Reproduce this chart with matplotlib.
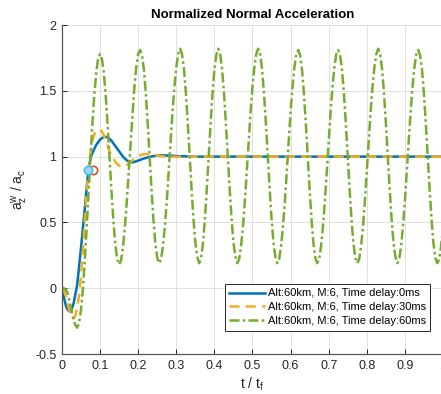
import numpy as np
import matplotlib
matplotlib.use('Agg')
import matplotlib.pyplot as plt

plt.rcParams['font.family'] = ['Liberation Sans', 'DejaVu Sans']
plt.rcParams['mathtext.fontset'] = 'custom'
plt.rcParams['mathtext.rm'] = 'Liberation Sans'

# green: time delay 60ms, sampled every 0.005 t/tf
t_green = np.round(np.arange(0, 1.0001, 0.005), 3)
a_green = [
    0.0, 0.0, -0.01, -0.04, -0.10, -0.17, -0.24, -0.28, -0.30, -0.26, -0.16,
    0.0, 0.22, 0.47, 0.74, 1.01, 1.26, 1.48, 1.64, 1.75, 1.78,
    1.74, 1.63, 1.45, 1.23, 0.98, 0.73, 0.51, 0.33, 0.22, 0.18,
    0.21, 0.31, 0.46, 0.66, 0.88, 1.11, 1.33, 1.53, 1.68, 1.78, 1.81,
    1.77, 1.66, 1.48, 1.25, 1.00, 0.75, 0.52, 0.34, 0.23, 0.19,
    0.22, 0.32, 0.47, 0.66, 0.89, 1.12, 1.34, 1.53, 1.68, 1.78, 1.82,
    1.78, 1.67, 1.49, 1.26, 1.01, 0.76, 0.53, 0.35, 0.24, 0.19,
    0.23, 0.34, 0.52, 0.75, 1.00, 1.25, 1.48, 1.66, 1.77, 1.82,
    1.78, 1.67, 1.49, 1.26, 1.01, 0.76, 0.53, 0.35, 0.24, 0.19,
    0.22, 0.32, 0.47, 0.66, 0.89, 1.12, 1.34, 1.53, 1.68, 1.78, 1.82,
    1.78, 1.67, 1.49, 1.26, 1.01, 0.76, 0.53, 0.35, 0.24, 0.19,
    0.22, 0.32, 0.47, 0.66, 0.89, 1.12, 1.34, 1.53, 1.68, 1.78, 1.81,
    1.77, 1.66, 1.48, 1.25, 1.00, 0.75, 0.52, 0.34, 0.23, 0.19,
    0.22, 0.32, 0.47, 0.66, 0.89, 1.12, 1.34, 1.53, 1.68, 1.78, 1.81,
    1.77, 1.66, 1.48, 1.25, 1.00, 0.75, 0.52, 0.34, 0.23, 0.19,
    0.22, 0.32, 0.47, 0.66, 0.89, 1.12, 1.34, 1.53, 1.68, 1.78, 1.82,
    1.78, 1.67, 1.49, 1.26, 1.01, 0.76, 0.53, 0.35, 0.24, 0.19,
    0.22, 0.32, 0.47, 0.66, 0.89, 1.12, 1.34, 1.53, 1.68, 1.78, 1.81,
    1.77, 1.66, 1.48, 1.25, 1.00, 0.75, 0.52, 0.34, 0.23, 0.19,
    0.22, 0.32, 0.47,
]

# blue: time delay 0ms
t_blue = [0, 0.005, 0.01, 0.015, 0.02, 0.025, 0.03, 0.035, 0.04, 0.045, 0.05,
          0.055, 0.06, 0.065, 0.07, 0.075, 0.08, 0.085, 0.09, 0.095, 0.10,
          0.105, 0.11, 0.115, 0.12, 0.125, 0.13, 0.135, 0.14, 0.145, 0.15,
          0.155, 0.16, 0.165, 0.17, 0.175, 0.18, 0.185, 0.19, 0.20, 0.21,
          0.22, 0.23, 0.24, 0.26, 0.28, 0.30, 0.35, 0.40, 1.0]
a_blue = [0.0, -0.07, -0.13, -0.165, -0.175, -0.16, -0.12, -0.05, 0.03, 0.17, 0.31,
          0.46, 0.61, 0.77, 0.91, 0.99, 1.03, 1.06, 1.09, 1.11, 1.13,
          1.14, 1.15, 1.15, 1.145, 1.135, 1.12, 1.10, 1.08, 1.06, 1.04,
          1.02, 1.0, 0.985, 0.972, 0.963, 0.958, 0.957, 0.96, 0.97, 0.98,
          0.99, 0.998, 1.004, 1.01, 1.008, 1.004, 1.0, 1.0, 1.0]

# orange: time delay 30ms
t_orange = [0, 0.005, 0.01, 0.015, 0.02, 0.025, 0.03, 0.035, 0.04, 0.045, 0.05,
            0.055, 0.06, 0.065, 0.07, 0.075, 0.08, 0.085, 0.09, 0.095, 0.10,
            0.105, 0.11, 0.115, 0.12, 0.125, 0.13, 0.135, 0.14, 0.145, 0.15,
            0.155, 0.16, 0.165, 0.17, 0.18, 0.19, 0.20, 0.21, 0.22, 0.23,
            0.24, 0.26, 0.28, 0.30, 0.35, 1.0]
a_orange = [0.0, -0.02, -0.06, -0.12, -0.18, -0.22, -0.23, -0.21, -0.15, -0.05, 0.10,
            0.30, 0.53, 0.74, 0.91, 1.04, 1.12, 1.17, 1.195, 1.205, 1.205,
            1.19, 1.16, 1.12, 1.08, 1.04, 1.01, 0.985, 0.96, 0.945, 0.93,
            0.925, 0.922, 0.925, 0.935, 0.96, 0.985, 1.005, 1.015, 1.02, 1.018,
            1.012, 1.004, 1.0, 0.998, 1.0, 1.0]

# 90% rise markers
mark_t = [0.081, 0.069]
mark_v = [0.9, 0.9]

labels = ['Alt:60km, M:6, Time delay:0ms',
          'Alt:60km, M:6, Time delay:30ms',
          'Alt:60km, M:6, Time delay:60ms']

fig = plt.figure(figsize=(4.41, 3.94), dpi=100)
ax = fig.add_axes([0.1406, 0.1015, 0.8639, 0.835])

ax.plot(t_blue, a_blue, color='#0072BD', lw=1.8, label=labels[0])
ax.plot(t_orange, a_orange, color='#EDB120', lw=1.8, ls=(0, (4, 2.5)), label=labels[1])
ax.plot(t_green, a_green, color='#77AC30', lw=1.8, ls=(0, (4, 1.3, 1, 1.3)), label=labels[2])

ax.plot(mark_t[0], mark_v[0], 'o', ms=6, mfc='none', mec='#D95319', mew=1.2)
ax.plot(mark_t[1], mark_v[1], 'o', ms=6, mfc='#9fd6f2', mec='#4DBEEE', mew=1.2)

ax.set_xlim(0, 1)
ax.set_ylim(-0.5, 2)
ax.set_xticks(np.arange(0, 1.01, 0.1))
ax.set_xticklabels(['0', '0.1', '0.2', '0.3', '0.4', '0.5', '0.6', '0.7', '0.8', '0.9', '1'])
ax.set_yticks([-0.5, 0, 0.5, 1, 1.5, 2])
ax.set_yticklabels(['-0.5', '0', '0.5', '1', '1.5', '2'])
ax.grid(True, color='#dcdcdc', lw=0.6)
ax.set_axisbelow(True)
ax.tick_params(direction='in', length=3.5, width=0.7, colors='#262626', labelsize=9, pad=4)
for s in ['top', 'right']:
    ax.spines[s].set_visible(False)
for s in ['left', 'bottom']:
    ax.spines[s].set_color('#555555')
    ax.spines[s].set_linewidth(0.9)

ax.set_title('Normalized Normal Acceleration', fontsize=9.5, fontweight='bold', pad=5)
ax.set_xlabel(r't / $\mathregular{t_f}$', fontsize=10, color='#262626', labelpad=3)
ax.set_ylabel(r'$\mathregular{a_z^w}$ / $\mathregular{a_c}$', fontsize=10, color='#262626', labelpad=4)

leg = ax.legend(loc='upper left', bbox_to_anchor=(224.5 / 441, 1 - 284 / 394),
                bbox_transform=fig.transFigure, fontsize=8, fancybox=False,
                framealpha=1, edgecolor='#262626', borderaxespad=0,
                handlelength=3.2, handletextpad=0.3, labelspacing=0.35, borderpad=0.4)
leg.get_frame().set_linewidth(0.7)

fig.savefig('out.png', dpi=100)
